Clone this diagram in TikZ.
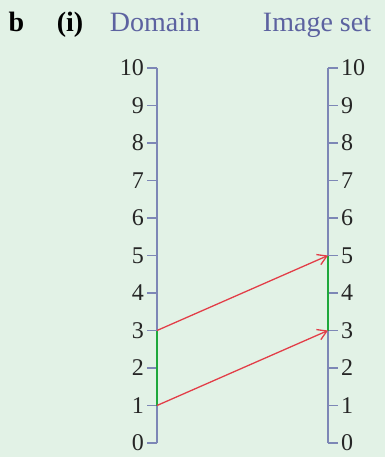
\documentclass[tikz,border=0pt]{standalone}
\usepackage{fontspec}
\setmainfont{Liberation Serif}
\usetikzlibrary{arrows.meta}
\definecolor{bgcol}{RGB}{226,242,230}
\definecolor{axiscol}{RGB}{125,135,182}
\definecolor{labcol}{RGB}{92,98,160}
\definecolor{mapcol}{RGB}{226,62,72}
\definecolor{intcol}{RGB}{30,168,60}
\tikzset{
  axisline/.style={axiscol, line width=1.8pt},
  tickline/.style={axiscol, line width=1.4pt},
  interval/.style={intcol, line width=2.6pt},
  mapping/.style={mapcol, line width=1.3pt, -{Straight Barb[length=9pt,width=11pt]}},
  heading/.style={labcol, anchor=base},
  ticklabel/.style={black!85, inner sep=2.5pt, font=\fontsize{24}{28}\selectfont}
}
\begin{document}
\begin{tikzpicture}[x=1pt, y=-1pt, font=\fontsize{28}{32}\selectfont]
  \fill[bgcol] (0,0) rectangle (385,457);

  % headings
  \node[anchor=base] (part) at (16.5,32) {\textbf{b}};
  \node[anchor=base] (sub) at (70,32) {\textbf{(i)}};
  \node[heading] (dom) at (155,32) {Domain};
  \node[heading] (img) at (317,32) {Image set};

  % axes and ticks
  \foreach \i in {0,...,10} {
    \coordinate (L\i) at (157,{443-37.5*\i});
    \coordinate (R\i) at (328,{443-37.5*\i});
    \draw[tickline] (L\i) -- ++(-10,0) node[left, ticklabel] (ll\i) {\i};
    \draw[tickline] (R\i) -- ++(10,0) node[right, ticklabel] (rl\i) {\i};
  }
  \draw[axisline] (L0) -- (L10);
  \draw[axisline] (R0) -- (R10);

  % intervals
  \draw[interval] (L1) -- (L3);
  \draw[interval] (R3) -- (R5);

  % mapping
  \draw[mapping] (L1) -- (R3);
  \draw[mapping] (L3) -- (R5);
\end{tikzpicture}
\end{document}
